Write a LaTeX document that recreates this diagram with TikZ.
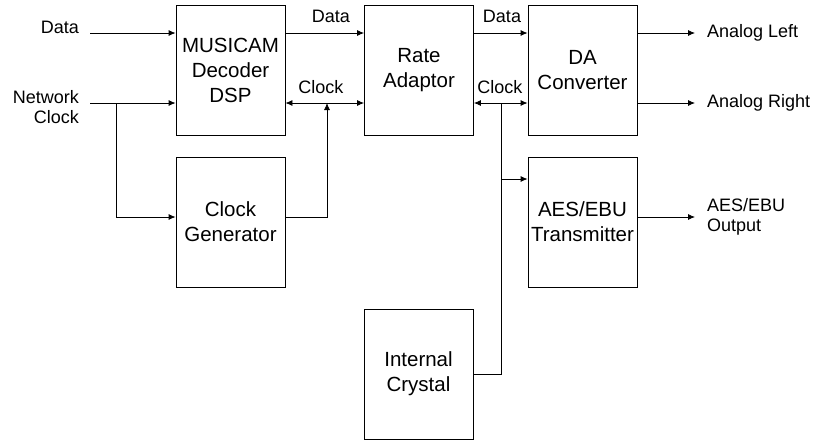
\documentclass[tikz,border=0pt]{standalone}
\usepackage{fontspec}
\setmainfont{Liberation Sans}
\usetikzlibrary{arrows.meta}

\tikzset{
  block/.style={draw, line width=0.8pt, minimum width=109pt, minimum height=130pt,
    align=center, inner sep=0pt, font=\fontsize{20.5}{25}\selectfont},
  lbl/.style={inner sep=0pt, font=\fontsize{18}{20}\selectfont},
  wire/.style={line width=0.8pt},
  tip/.style={-{Latex[length=7pt,width=6pt]}},
}

\begin{document}
\begin{tikzpicture}[x=1pt, y=-1pt]
\useasboundingbox (0,0) rectangle (815,440);
% Blocks
\node[block] (dsp) at (230.5,70) {MUSICAM\\Decoder\\DSP};
\node[block] (clkgen) at (230.5,222) {Clock\\Generator};
\node[block] (rate) at (419,70) {Rate\\Adaptor};
\node[block] (dac) at (582.5,70) {DA\\Converter};
\node[block] (aes) at (582.5,222) {AES/EBU\\Transmitter};
\node[block] (xtal) at (418.5,374) {Internal\\Crystal};
% Free ends and junctions
\coordinate (datain) at (90,33);
\coordinate (nclk) at (90,103);
\coordinate (split) at (116,103);
\coordinate (clkjoin) at (327,103);
\coordinate (tap) at (501,103);
\coordinate (aestap) at (501,179);
\coordinate (outl) at (695,33);
\coordinate (outr) at (695,103);
\coordinate (outaes) at (695,217);
% Inputs
\draw[wire, tip] (datain) -- (datain -| dsp.west);
\draw[wire, tip] (nclk) -- (nclk -| dsp.west);
\draw[wire, tip] (split) |- ([yshift=5pt]clkgen.west);
% Clock generator to clock line
\draw[wire, tip] ([yshift=5pt]clkgen.east) -| (clkjoin);
% Data and clock between blocks
\draw[wire, tip] (dsp.east |- datain) -- (rate.west |- datain);
\draw[wire, {Latex[length=7pt,width=6pt]}-{Latex[length=7pt,width=6pt]}] (dsp.east |- clkjoin) -- (rate.west |- clkjoin);
\draw[wire, tip] (rate.east |- datain) -- (dac.west |- datain);
\draw[wire, {Latex[length=7pt,width=6pt]}-{Latex[length=7pt,width=6pt]}] (rate.east |- tap) -- (dac.west |- tap);
% Crystal clock
\draw[wire] (xtal.east) -| (tap);
\draw[wire, tip] (aestap) -- (aestap -| aes.west);
% Outputs
\draw[wire, tip] (dac.east |- outl) -- (outl);
\draw[wire, tip] (dac.east |- outr) -- (outr);
\draw[wire, tip] ([yshift=5pt]aes.east) -- (outaes);
% Labels
\node[lbl, anchor=east] (ldata) at (79,27) {Data};
\node[lbl, anchor=east, align=right] (lnclk) at (79,107) {Network\\Clock};
\node[lbl] (ldata1) at (331,16) {Data};
\node[lbl] (lclk1) at (321,87) {Clock};
\node[lbl] (ldata2) at (502,16) {Data};
\node[lbl] (lclk2) at (500,87) {Clock};
\node[lbl, anchor=west] (lleft) at (707,33) {Analog Left};
\node[lbl, anchor=west] (lright) at (707,103) {Analog Right};
\node[lbl, anchor=west, align=left] (laes) at (707,217) {AES/EBU\\Output};
\end{tikzpicture}
\end{document}
